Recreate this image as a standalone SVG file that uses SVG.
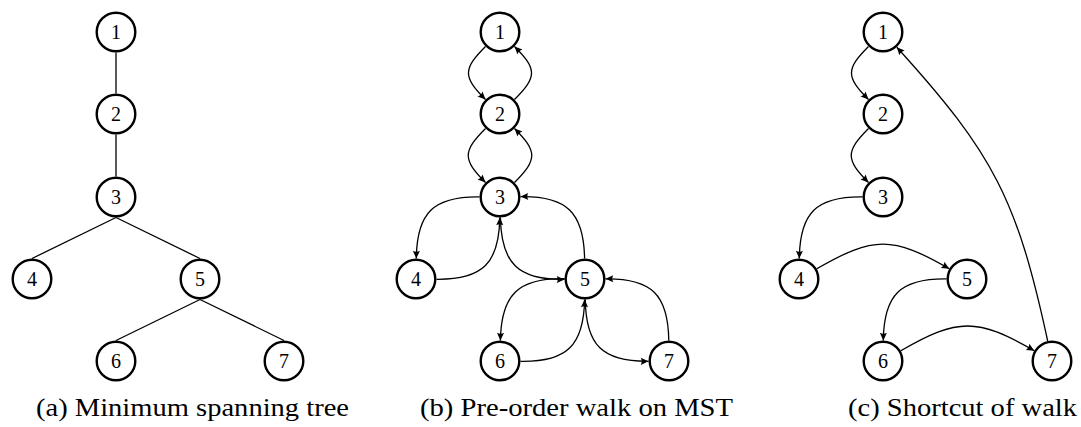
<svg xmlns="http://www.w3.org/2000/svg" width="1081" height="427" viewBox="0 0 1081 427">
  <style>
    .node circle { fill: #ffffff; stroke: #000000; stroke-width: 2.4; }
    .node text { font-family: "Liberation Serif", "Times New Roman", serif; font-size: 20px; text-anchor: middle; fill: #000000; }
    .edge { fill: none; stroke: #000000; stroke-width: 1.3; }
    .arc { fill: none; stroke: #000000; stroke-width: 1.3; marker-end: url(#tip); }
    .caption { font-family: "Liberation Serif", "Times New Roman", serif; font-size: 26px; fill: #000000; }
  </style>
  <defs>
    <marker id="tip" markerUnits="userSpaceOnUse" markerWidth="10" markerHeight="10" viewBox="-8 -4 9 8" refX="0" refY="0" orient="auto">
      <path d="M0,0 L-7,-3.2 Q-5.2,0 -7,3.2 Z" fill="#000000"/>
    </marker>
  </defs>

  <rect width="1081" height="427" fill="#ffffff"/>

  <!-- (a) tree edges -->
  <g id="edges-a">
    <line class="edge" x1="116" y1="52.5" x2="116" y2="93.5"/>
    <line class="edge" x1="116" y1="134.5" x2="116" y2="176.5"/>
    <line class="edge" x1="116" y1="217.5" x2="32" y2="258.5"/>
    <line class="edge" x1="116" y1="217.5" x2="200" y2="258.5"/>
    <line class="edge" x1="200" y1="299.5" x2="116" y2="340.5"/>
    <line class="edge" x1="200" y1="299.5" x2="284" y2="340.5"/>
  </g>

  <!-- (b) pre-order walk: every edge bent right by 45 degrees -->
  <g id="edges-b">
    <path class="arc" d="M485.5,46.5 C462.8,69.2 462.8,76.8 485.5,99.5"/>
    <path class="arc" d="M514.5,99.5 C537.2,76.8 537.2,69.2 514.5,46.5"/>
    <path class="arc" d="M485.5,128.5 C462.5,151.5 462.5,159.5 485.5,182.5"/>
    <path class="arc" d="M514.5,182.5 C537.5,159.5 537.5,151.5 514.5,128.5"/>
    <path class="arc" d="M479.5,196.8 C433.5,196.2 416.8,212.5 416.3,258.5"/>
    <path class="arc" d="M436.5,279.3 C482.5,279.8 499.2,263.5 499.8,217.5"/>
    <path class="arc" d="M500.4,217.5 C501.2,263.7 518.3,280.2 564.5,279.4"/>
    <path class="arc" d="M584.6,258.5 C583.8,212.3 566.7,195.8 520.5,196.6"/>
    <path class="arc" d="M564.5,278.6 C518.3,277.8 501.2,294.3 500.4,340.5"/>
    <path class="arc" d="M520.5,361.4 C566.7,362.2 583.8,345.7 584.6,299.5"/>
    <path class="arc" d="M585.3,299.5 C585.8,345.5 602.5,361.8 648.5,361.3"/>
    <path class="arc" d="M668.8,340.5 C668.2,294.5 651.5,278.2 605.5,278.8"/>
  </g>

  <!-- (c) shortcut tour -->
  <g id="edges-c">
    <path class="arc" d="M868.5,46.5 C845.8,69.2 845.8,76.8 868.5,99.5"/>
    <path class="arc" d="M868.5,128.5 C845.5,151.5 845.5,159.5 868.5,182.5"/>
    <path class="arc" d="M862.5,196.8 C816.5,196.2 799.8,212.5 799.3,258.5"/>
    <path class="arc" d="M816.8,268.8 C873.7,235.9 892.3,235.9 949.3,268.8"/>
    <path class="arc" d="M946.5,278.8 C900.5,278.2 883.8,294.5 883.3,340.5"/>
    <path class="arc" d="M900.8,350.8 C958.1,317.7 977.0,317.7 1034.3,350.8"/>
    <path class="arc" d="M1047.7,341 C1017.1,199.5 994.1,154.4 896.8,47.2"/>
  </g>

  <!-- (a) nodes -->
  <g id="a1" class="node"><circle cx="116" cy="32" r="19.3"/><text x="116" y="39">1</text></g>
  <g id="a2" class="node"><circle cx="116" cy="114" r="19.3"/><text x="116" y="121">2</text></g>
  <g id="a3" class="node"><circle cx="116" cy="197" r="19.3"/><text x="116" y="204">3</text></g>
  <g id="a4" class="node"><circle cx="32" cy="279" r="19.3"/><text x="32" y="286">4</text></g>
  <g id="a5" class="node"><circle cx="200" cy="279" r="19.3"/><text x="200" y="286">5</text></g>
  <g id="a6" class="node"><circle cx="116" cy="361" r="19.3"/><text x="116" y="368">6</text></g>
  <g id="a7" class="node"><circle cx="284" cy="361" r="19.3"/><text x="284" y="368">7</text></g>

  <!-- (b) nodes -->
  <g id="b1" class="node"><circle cx="500" cy="32" r="19.3"/><text x="500" y="39">1</text></g>
  <g id="b2" class="node"><circle cx="500" cy="114" r="19.3"/><text x="500" y="121">2</text></g>
  <g id="b3" class="node"><circle cx="500" cy="197" r="19.3"/><text x="500" y="204">3</text></g>
  <g id="b4" class="node"><circle cx="416" cy="279" r="19.3"/><text x="416" y="286">4</text></g>
  <g id="b5" class="node"><circle cx="585" cy="279" r="19.3"/><text x="585" y="286">5</text></g>
  <g id="b6" class="node"><circle cx="500" cy="361" r="19.3"/><text x="500" y="368">6</text></g>
  <g id="b7" class="node"><circle cx="669" cy="361" r="19.3"/><text x="669" y="368">7</text></g>

  <!-- (c) nodes -->
  <g id="c1" class="node"><circle cx="883" cy="32" r="19.3"/><text x="883" y="39">1</text></g>
  <g id="c2" class="node"><circle cx="883" cy="114" r="19.3"/><text x="883" y="121">2</text></g>
  <g id="c3" class="node"><circle cx="883" cy="197" r="19.3"/><text x="883" y="204">3</text></g>
  <g id="c4" class="node"><circle cx="799" cy="279" r="19.3"/><text x="799" y="286">4</text></g>
  <g id="c5" class="node"><circle cx="967" cy="279" r="19.3"/><text x="967" y="286">5</text></g>
  <g id="c6" class="node"><circle cx="883" cy="361" r="19.3"/><text x="883" y="368">6</text></g>
  <g id="c7" class="node"><circle cx="1052" cy="361" r="19.3"/><text x="1052" y="368">7</text></g>

  <!-- sub-figure captions -->
  <g id="captions">
    <text class="caption" x="36" y="416" textLength="313" lengthAdjust="spacingAndGlyphs">(a) Minimum spanning tree</text>
    <text class="caption" x="420" y="416" textLength="313" lengthAdjust="spacingAndGlyphs">(b) Pre-order walk on MST</text>
    <text class="caption" x="848" y="416" textLength="229" lengthAdjust="spacingAndGlyphs">(c) Shortcut of walk</text>
  </g>
</svg>
